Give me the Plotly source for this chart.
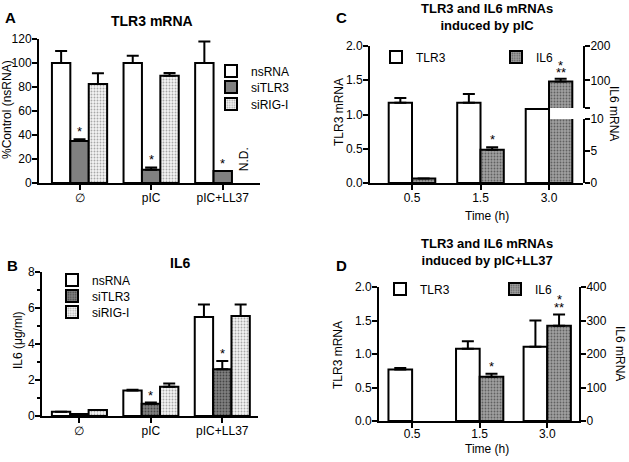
import plotly.graph_objects as go

W, H = 629, 462
FONT = "Liberation Sans, Arial, sans-serif"

# ---------------- data ----------------
A_cats = ["∅", "pIC", "pIC+LL37"]
A_nsRNA = [100, 100, 100]
A_nsRNA_err = [10, 6, 18]
A_siTLR3 = [35, 11, 10]
A_siTLR3_err = [1.4, 2, None]
A_siRIG = [82.5, 89.4, None]
A_siRIG_err = [9, 2.3, None]

B_cats = ["∅", "pIC", "pIC+LL37"]
B_nsRNA = [0.24, 1.41, 5.5]
B_nsRNA_err = [None, 0.05, 0.7]
B_siTLR3 = [0.11, 0.68, 2.6]
B_siTLR3_err = [None, 0.07, 0.46]
B_siRIG = [0.33, 1.63, 5.56]
B_siRIG_err = [None, 0.18, 0.64]

C_times = ["0.5", "1.5", "3.0"]
C_TLR3 = [1.17, 1.17, 1.08]
C_TLR3_err = [0.07, 0.13, None]
C_IL6 = [0.7, 5.2, 97]
C_IL6_err = [None, 0.4, 8]

D_times = ["0.5", "1.5", "3.0"]
D_TLR3 = [0.77, 1.08, 1.11]
D_TLR3_err = [0.02, 0.11, 0.39]
D_IL6 = [None, 132, 284]
D_IL6_err = [None, 9, 34]

# ---------------- helpers ----------------
def px(x):
    return x / W

def py(y):
    return 1 - y / H

BLACK = "black"
line = dict(color=BLACK, width=2)

def err(vals):
    return dict(type="data", array=vals, arrayminus=[0] * len(vals), symmetric=False,
                color=BLACK, thickness=2, width=6, visible=True)

WHITE = dict(color="white", line=line)
GREY_SOLID = dict(color="#808080", line=line)
GREY_DOTS = dict(color="#8a8a8a", line=line,
                 pattern=dict(shape=".", bgcolor="#a0a0a0", fgcolor="#606060", size=3, solidity=0.3))
DARK_DOTS = dict(color="#707070", line=line,
                 pattern=dict(shape=".", bgcolor="#808080", fgcolor="#454545", size=3, solidity=0.3))
LIGHT_DOTS = dict(color="#eeeeee", line=line,
                  pattern=dict(shape=".", bgcolor="#f4f4f4", fgcolor="#a8a8a8", size=3, solidity=0.3))

fig = go.Figure()

# ---- Panel A ----
wA = 0.257
for k, (name, vals, e, mk, off) in enumerate([
    ("nsRNA", A_nsRNA, A_nsRNA_err, WHITE, -1.5 * wA),
    ("siTLR3", A_siTLR3, A_siTLR3_err, GREY_SOLID, -0.5 * wA),
    ("siRIG-I", A_siRIG, A_siRIG_err, LIGHT_DOTS, 0.5 * wA),
]):
    fig.add_trace(go.Bar(x=A_cats, y=vals, name=name, width=wA, offset=off, marker=mk,
                         error_y=err(e), xaxis="x", yaxis="y", legend=f"legend{k + 1 if k else ''}"))

# ---- Panel B ----
for k, (name, vals, e, mk, off) in enumerate([
    ("nsRNA", B_nsRNA, B_nsRNA_err, WHITE, -1.5 * wA),
    ("siTLR3", B_siTLR3, B_siTLR3_err, DARK_DOTS, -0.5 * wA),
    ("siRIG-I", B_siRIG, B_siRIG_err, LIGHT_DOTS, 0.5 * wA),
]):
    fig.add_trace(go.Bar(x=B_cats, y=vals, name=name, width=wA, offset=off, marker=mk,
                         error_y=err(e), xaxis="x2", yaxis="y2", legend=f"legend{k + 4}"))

# ---- Panel C ----
wC = 0.34
fig.add_trace(go.Bar(x=C_times, y=C_TLR3, name="TLR3", width=wC, offset=-wC, marker=WHITE,
                     error_y=err(C_TLR3_err), xaxis="x3", yaxis="y3", legend="legend7"))
# IL6 on the broken right axis: lower segment (0-10) and upper segment (20-200)
fig.add_trace(go.Bar(x=C_times, y=C_IL6, name="IL6", width=wC, offset=0, marker=GREY_DOTS,
                     error_y=err([None if (v is not None and v > 10) else e for v, e in zip(C_IL6, C_IL6_err)]),
                     xaxis="x3", yaxis="y4", legend="legend8"))
fig.add_trace(go.Bar(x=C_times, y=C_IL6, name="IL6", width=wC, offset=0, marker=GREY_DOTS,
                     error_y=err(C_IL6_err), xaxis="x3", yaxis="y5", showlegend=False))

# ---- Panel D ----
wD = 0.35
fig.add_trace(go.Bar(x=D_times, y=D_TLR3, name="TLR3", width=wD, offset=-wD, marker=WHITE,
                     error_y=err(D_TLR3_err), xaxis="x4", yaxis="y6", legend="legend9"))
fig.add_trace(go.Bar(x=D_times, y=D_IL6, name="IL6", width=wD, offset=0, marker=GREY_DOTS,
                     error_y=err(D_IL6_err), xaxis="x4", yaxis="y7", legend="legend10"))

# ---------------- axes ----------------
tickfont = dict(family=FONT, size=12, color=BLACK)
base = dict(showline=True, linewidth=2, linecolor=BLACK, ticks="outside", ticklen=5,
            tickwidth=2, tickcolor=BLACK, showgrid=False, zeroline=False, tickfont=tickfont,
            fixedrange=True, automargin=False, ticklabelstandoff=-2)

fig.update_layout(
    xaxis=dict(base, domain=[px(39), px(260)], anchor="y", range=[-0.566, 2.52], type="category"),
    yaxis=dict(base, domain=[py(183), py(39)], anchor="x", range=[0, 120], dtick=20),
    xaxis2=dict(base, domain=[px(42), px(258)], anchor="y2", range=[-0.524, 2.5], type="category"),
    yaxis2=dict(base, domain=[py(416), py(272)], anchor="x2", range=[0, 8], dtick=2,
                minor=dict(dtick=1, ticklen=3, tickwidth=2, tickcolor=BLACK, ticks="outside")),
    xaxis3=dict(base, domain=[px(370), px(583)], anchor="y3", range=[-0.613, 2.496], type="category"),
    yaxis3=dict(base, domain=[py(183), py(46)], anchor="x3", range=[0, 2], dtick=0.5, tickformat=".1f"),
    yaxis4=dict(base, domain=[py(183), py(119)], anchor="x3", side="right", range=[0, 10], dtick=5),
    yaxis5=dict(base, domain=[py(108), py(46)], anchor="x3", side="right", range=[20, 200],
                tickvals=[20, 100, 200], ticktext=["", "100", "200"]),
    xaxis4=dict(base, domain=[px(379), px(579)], anchor="y6", range=[-0.49, 2.47], type="category",
                ticklabelstandoff=-4),
    yaxis6=dict(base, domain=[py(421), py(287)], anchor="x4", range=[0, 2], dtick=0.5, tickformat=".1f"),
    yaxis7=dict(base, domain=[py(421), py(287)], anchor="x4", overlaying="y6", side="right",
                range=[0, 400], dtick=100),
)

# ---------------- legends (one item each, placed individually) ----------------
legfont = dict(family=FONT, size=12, color=BLACK)
legbase = dict(font=legfont, bgcolor="rgba(0,0,0,0)", borderwidth=0, itemwidth=30,
               xanchor="left", yanchor="middle", tracegroupgap=0, itemclick=False,
               itemdoubleclick=False)
leg_pos = {
    "legend": (211, 71), "legend2": (211, 87), "legend3": (211, 104),
    "legend4": (52, 280), "legend5": (52, 296), "legend6": (52, 312),
    "legend7": (376, 57), "legend8": (496, 57),
    "legend9": (380, 289), "legend10": (495, 289),
}
fig.update_layout(**{k: dict(legbase, x=px(x), y=py(y)) for k, (x, y) in leg_pos.items()})

# ---------------- annotations ----------------
ann = []
def text(x, y, s, size=12, bold=False, angle=0, xanchor="center", yanchor="middle"):
    ann.append(dict(x=x, y=y, xref="paper", yref="paper", text=f"<b>{s}</b>" if bold else s,
                    showarrow=False, textangle=angle, xanchor=xanchor, yanchor=yanchor,
                    font=dict(family=FONT, size=size, color=BLACK)))

# panel letters and titles
text(px(10), py(17), "A", size=15, bold=True)
text(px(152), py(21), "TLR3 mRNA", size=14, bold=True)
text(px(12), py(265), "B", size=15, bold=True)
text(px(180), py(263), "IL6", size=14, bold=True)
text(px(341), py(17), "C", size=15, bold=True)
text(px(487), py(17), "TLR3 and IL6 mRNAs<br>induced by pIC", size=13, bold=True)
text(px(341), py(265), "D", size=15, bold=True)
text(px(487), py(252), "TLR3 and IL6 mRNAs<br>induced by pIC+LL37", size=13, bold=True)

# axis titles
text(px(7), py(110), "%Control (nsRNA)", angle=-90)
text(px(18), py(340), "IL6 (μg/ml)", angle=-90)
text(px(339), py(112), "TLR3 mRNA", angle=-90)
text(px(614), py(113), "IL6 mRNA", angle=90)
text(px(487), py(216), "Time (h)")
text(px(338), py(355), "TLR3 mRNA", angle=-90)
text(px(620), py(353), "IL6 mRNA", angle=90)
text(px(487), py(449), "Time (h)")

# N.D. label for the missing siRIG-I bar
ann.append(dict(x=2 + wA, y=0, xref="x", yref="y", text="N.D.", showarrow=False, textangle=-90,
                xanchor="center", yanchor="bottom", yshift=10, xshift=3,
                font=dict(family=FONT, size=12, color=BLACK)))

def star(xref, yref, xpos, top, s="*", shift=-2):
    ann.append(dict(x=xpos, y=top, xref=xref, yref=yref, text=s, showarrow=False,
                    xanchor="center", yanchor="bottom", yshift=shift,
                    font=dict(family=FONT, size=13, color=BLACK)))

def top_of(v, e):
    return v + (e or 0)

for i in range(3):
    star("x", "y", i, top_of(A_siTLR3[i], A_siTLR3_err[i]))
for i in (1, 2):
    star("x2", "y2", i, top_of(B_siTLR3[i], B_siTLR3_err[i]))
star("x3", "y4", 1 + wC / 2, top_of(C_IL6[1], C_IL6_err[1]))
star("x3", "y5", 2 + wC / 2, top_of(C_IL6[2], C_IL6_err[2]), "**", -3)
star("x3", "y5", 2 + wC / 2, top_of(C_IL6[2], C_IL6_err[2]), "*", 4)
star("x4", "y7", 1 + wD / 2, top_of(D_IL6[1], D_IL6_err[1]))
star("x4", "y7", 2 + wD / 2, top_of(D_IL6[2], D_IL6_err[2]), "**", -3)
star("x4", "y7", 2 + wD / 2, top_of(D_IL6[2], D_IL6_err[2]), "*", 5)

fig.update_layout(
    template="none",
    annotations=ann,
    width=W, height=H, autosize=False,
    margin=dict(l=0, r=0, t=0, b=0, pad=0),
    paper_bgcolor="white", plot_bgcolor="rgba(0,0,0,0)",
    font=dict(family=FONT, size=12, color=BLACK),
    barmode="overlay",
)

fig.write_html("out.html", config={"displayModeBar": False},
               post_script="document.body.style.margin='0';document.body.style.overflow='hidden';")
